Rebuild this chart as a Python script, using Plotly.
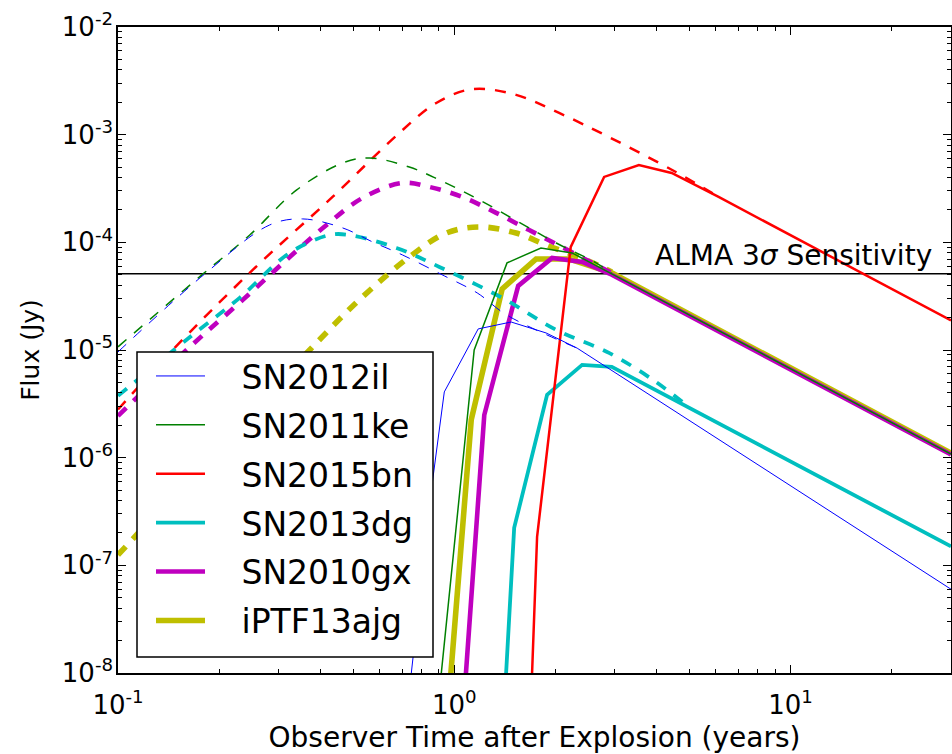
import numpy as np
import plotly.graph_objects as go

# ---------------- data (years, Jy) ----------------
names = ["SN2012il", "SN2011ke", "SN2015bn", "SN2013dg", "SN2010gx", "iPTF13ajg"]
colors = ["#0000ff", "#008000", "#ff0000", "#00bfbf", "#bf00bf", "#bfbf00"]
widths = [1.0, 1.5, 2.5, 3.8, 4.6, 5.6]

# model (dashed) curves, drawn until they merge with the observed curves
t_il_mod = [0.1, 0.181, 0.2825, 0.354, 0.466, 0.571, 0.701, 0.934, 1.17, 1.43, 2.32]
f_il_mod = [9.6e-6, 5.08e-5, 1.45e-4, 1.65e-4, 1.36e-4, 1.01e-4, 7.64e-5, 4.88e-5, 3.39e-5, 2.12e-5, 1.04e-5]
t_ke_mod = [0.1, 0.1775, 0.2465, 0.340, 0.466, 0.56, 0.735, 0.903, 1.186, 2.01, 2.64, 2.94]
f_ke_mod = [1.07e-5, 4.98e-5, 1.17e-4, 3.07e-4, 5.46e-4, 6.08e-4, 5.0e-4, 3.8e-4, 2.48e-4, 9.86e-5, 6.45e-5, 5.15e-5]
t_bn_mod = [0.1, 0.1426, 0.2516, 0.4345, 0.687, 0.884, 1.131, 1.527, 2.05, 2.885, 4.56, 6.11]
f_bn_mod = [2.8e-6, 9.4e-6, 5.55e-5, 2.64e-4, 1.04e-3, 1.97e-3, 2.65e-3, 2.34e-3, 1.59e-3, 9.5e-4, 4.5e-4, 2.64e-4]
t_dg_mod = [0.1, 0.1637, 0.230, 0.324, 0.426, 0.488, 0.673, 0.903, 1.388, 2.008, 2.885, 3.976, 4.98]
f_dg_mod = [3.75e-6, 1.32e-5, 3.05e-5, 7.97e-5, 1.17e-4, 1.17e-4, 8.87e-5, 5.91e-5, 3.05e-5, 1.54e-5, 9.4e-6, 5.06e-6, 2.95e-6]
t_gx_mod = [0.1, 0.1637, 0.235, 0.324, 0.417, 0.533, 0.701, 0.843, 1.056, 1.332, 1.67, 2.09, 2.64, 2.94]
f_gx_mod = [2.44e-6, 1.07e-5, 2.92e-5, 7.31e-5, 1.45e-4, 2.58e-4, 3.56e-4, 3.27e-4, 2.64e-4, 1.88e-4, 1.30e-4, 9.06e-5, 6.17e-5, 5.2e-5]
t_aj_mod = [0.1, 0.3715, 0.522, 0.735, 0.947, 1.186, 1.527, 1.875, 2.466, 2.94]
f_aj_mod = [1.25e-7, 1.0e-5, 2.92e-5, 7.31e-5, 1.22e-4, 1.39e-4, 1.22e-4, 9.46e-5, 6.87e-5, 5.3e-5]

# observed-frame (solid) curves
t_il_obs = [0.687, 0.860, 0.934, 1.178, 1.476, 1.875, 2.32, 30]
f_il_obs = [1e-9, 5.8e-7, 4.08e-6, 1.57e-5, 1.82e-5, 1.44e-5, 1.04e-5, 6.0e-8]
t_ke_obs = [0.849, 1.146, 1.435, 1.81, 2.24, 2.94, 30]
f_ke_obs = [1e-9, 1.0e-5, 6.44e-5, 8.87e-5, 7.97e-5, 5.1e-5, 1.08e-6]
t_bn_obs = [1.658, 1.763, 2.22, 2.79, 3.54, 4.43, 6.11, 30]
f_bn_obs = [1e-9, 1.84e-7, 9.06e-5, 4.05e-4, 5.23e-4, 4.41e-4, 2.64e-4, 1.88e-5]
t_dg_obs = [1.369, 1.507, 1.888, 2.40, 2.94, 30]
f_dg_obs = [1e-9, 2.23e-7, 3.83e-6, 7.27e-6, 6.97e-6, 1.5e-7]
t_gx_obs = [1.028, 1.228, 1.549, 1.954, 2.40, 2.94, 30]
f_gx_obs = [1e-9, 2.49e-6, 3.94e-5, 7.16e-5, 6.58e-5, 5.0e-5, 1.07e-6]
t_aj_obs = [0.921, 1.123, 1.388, 1.751, 2.19, 2.94, 30]
f_aj_obs = [1e-9, 2.24e-6, 3.69e-5, 7.01e-5, 7.01e-5, 5.2e-5, 1.1e-6]

alma_t = [0.1, 30]
alma_flux = 5.1e-5

x_tickvals = [0.1, 1, 10]
x_ticktext = ["10<sup>-1</sup>", "10<sup>0</sup>", "10<sup>1</sup>"]
y_tickvals = [1e-8, 1e-7, 1e-6, 1e-5, 1e-4, 1e-3, 1e-2]
y_ticktext = ["10<sup>-8</sup>", "10<sup>-7</sup>", "10<sup>-6</sup>", "10<sup>-5</sup>",
              "10<sup>-4</sup>", "10<sup>-3</sup>", "10<sup>-2</sup>"]

models = [(t_il_mod, f_il_mod), (t_ke_mod, f_ke_mod), (t_bn_mod, f_bn_mod),
          (t_dg_mod, f_dg_mod), (t_gx_mod, f_gx_mod), (t_aj_mod, f_aj_mod)]
obs = [(t_il_obs, f_il_obs), (t_ke_obs, f_ke_obs), (t_bn_obs, f_bn_obs),
       (t_dg_obs, f_dg_obs), (t_gx_obs, f_gx_obs), (t_aj_obs, f_aj_obs)]

FONT = "DejaVu Sans"
fig = go.Figure()

fig.add_trace(go.Scatter(x=alma_t, y=[alma_flux] * len(alma_t), mode="lines",
                         line=dict(color="black", width=1.5), showlegend=False,
                         hoverinfo="skip"))

nbsp = "\u00a0" * 3
# draw thickest first so thin lines sit on top
for i in reversed(range(len(names))):
    tm, fm = models[i]
    to, fo = obs[i]
    fig.add_trace(go.Scatter(x=tm, y=fm, mode="lines", line_shape="spline",
                             line=dict(color=colors[i], width=widths[i], dash="11px,10px"),
                             showlegend=False, legendgroup=names[i], legendrank=i + 1))
    fig.add_trace(go.Scatter(x=to, y=fo, mode="lines",
                             line=dict(color=colors[i], width=widths[i]),
                             name=nbsp + names[i], legendgroup=names[i], legendrank=i + 1))

axis_common = dict(type="log", showline=True, linecolor="black", linewidth=1.5,
                   mirror="allticks", ticks="inside", ticklen=8, tickwidth=1,
                   tickcolor="black", automargin=False,
                   showgrid=False, zeroline=False,
                   tickfont=dict(family=FONT, size=26, color="black"),
                   minor=dict(ticks="inside", ticklen=4, tickwidth=1, tickcolor="black",
                              dtick="D1", showgrid=False))

PX0, PY0 = 118, 27          # plot area left / top
PW, PH = 833, 646           # plot area width / height

fig.update_layout(
    width=952, height=754,
    margin=dict(l=PX0, r=952 - PX0 - PW, t=PY0, b=754 - PY0 - PH, pad=0),
    paper_bgcolor="white", plot_bgcolor="white",
    font=dict(family=FONT, color="black"),
    xaxis=dict(range=[-1, np.log10(30)], tickvals=x_tickvals, ticktext=x_ticktext,
               ticklabelstandoff=8,
               title=dict(text="Observer Time after Explosion (years)",
                          font=dict(family=FONT, size=28), standoff=10),
               **axis_common),
    yaxis=dict(range=[-8, -2], tickvals=y_tickvals, ticktext=y_ticktext,
               ticklabelstandoff=-2,
               title=dict(text="Flux (Jy)", font=dict(family=FONT, size=25)),
               **axis_common),
    showlegend=True,
    legend=dict(x=(151 - PX0) / PW, y=(PY0 + PH - 348) / PH, xanchor="left", yanchor="top",
                bgcolor="rgba(0,0,0,0)", borderwidth=0, itemwidth=49,
                traceorder="grouped", tracegroupgap=3,
                font=dict(family=FONT, size=33, color="black")),
    shapes=[dict(type="rect", xref="paper", yref="paper",
                 x0=(137 - PX0) / PW, x1=(433 - PX0) / PW,
                 y0=(PY0 + PH - 657) / PH, y1=(PY0 + PH - 352) / PH,
                 line=dict(color="black", width=1.5), fillcolor="white", layer="above")],
    annotations=[dict(text="ALMA 3<i>σ</i> Sensitivity", xref="paper", yref="y",
                      x=(934 - PX0) / PW, y=np.log10(alma_flux), xanchor="right",
                      yanchor="bottom", showarrow=False,
                      font=dict(family=FONT, size=28, color="black"))],
)

fig.write_html("out.html", config={"displayModeBar": False},
               post_script="document.body.style.margin='0px';"
                           "document.body.style.overflow='hidden';")
